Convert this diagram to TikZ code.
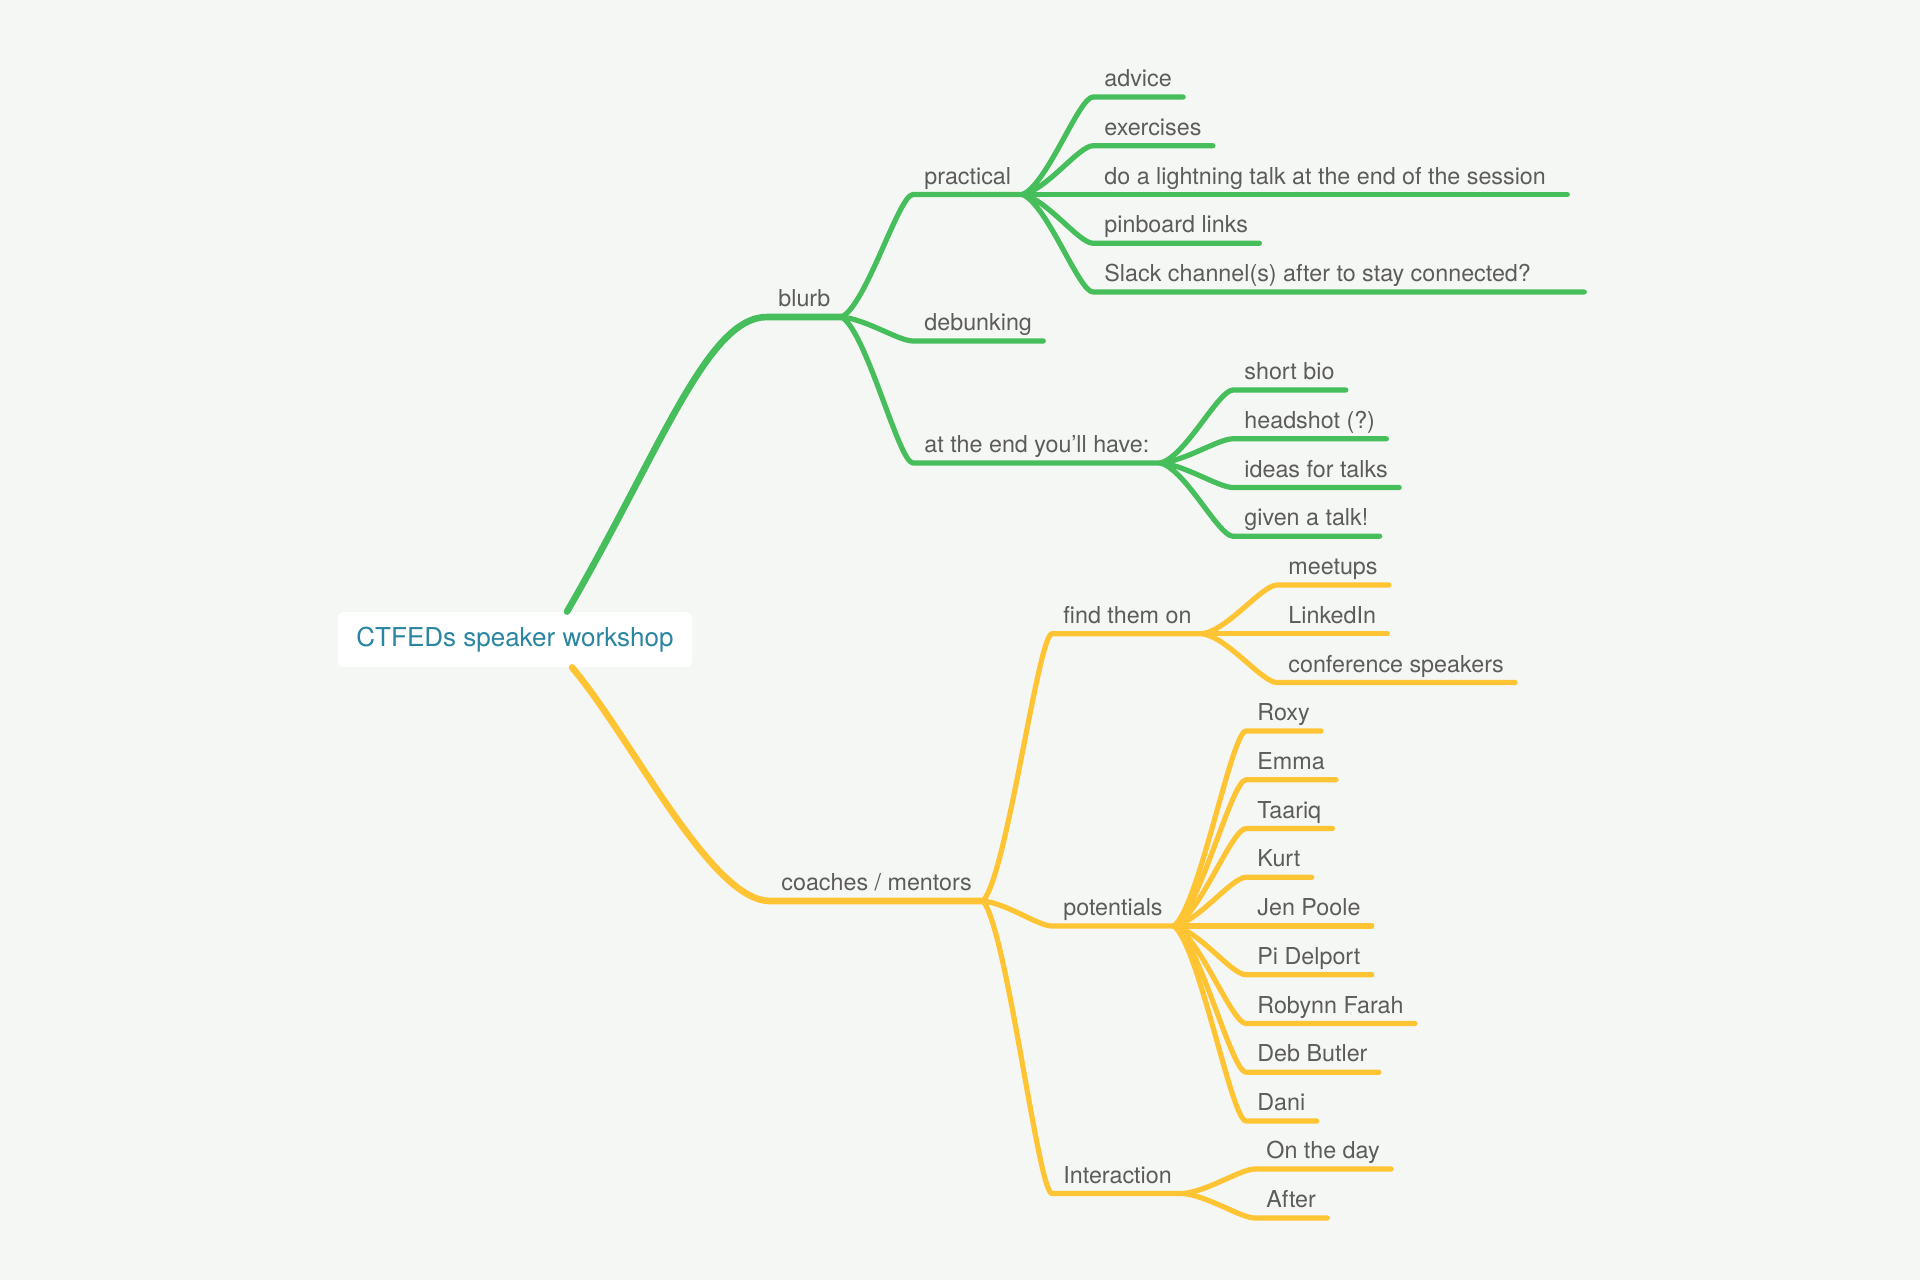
\documentclass[tikz,border=0pt]{standalone}
\usepackage{fontspec}
\setmainfont{TeX Gyre Heros}
\usepackage{xcolor}
\usepackage{tikz}
\usetikzlibrary{calc, positioning}

\definecolor{mapbg}{HTML}{F5F7F4}
\definecolor{mapgreen}{HTML}{46BE5B}
\definecolor{mapyellow}{HTML}{FFC433}
\definecolor{maptext}{HTML}{5C5C5C}
\definecolor{rootteal}{HTML}{2A86A0}

\begin{document}
\begin{tikzpicture}[
  x=0.5pt, y=-0.5pt,
  topic/.style={anchor=south west, inner xsep=5.5pt, inner ysep=5pt, text depth=0pt,
                font=\fontsize{11.65}{13}\selectfont, text=maptext},
  central/.style={rectangle, rounded corners=2.5pt, fill=white, minimum width=177pt,
                  minimum height=27.5pt, font=\fontsize{13}{15}\selectfont, text=rootteal},
  greenline/.style={draw=mapgreen, line width=2.6pt, line cap=round, line join=round},
  yellowline/.style={draw=mapyellow, line width=2.6pt, line cap=round, line join=round},
  branch/.style={to path={let \p1=(\tikztostart), \p2=(\tikztotarget) in
    .. controls ({\x1+0.35*(\x2-\x1)},{\y1+0.1*(\y2-\y1)}) and ({\x2-0.2*(\x2-\x1)},\y2) .. (\tikztotarget)}},
  mainbranch/.style 2 args={line width=3.3pt, to path={let \p1=(\tikztostart), \p2=(\tikztotarget) in
    .. controls ({\x1+#1*(\x2-\x1)},{\y1+#2*(\y2-\y1)}) and ({\x2-0.3*(\x2-\x1)},\y2) .. (\tikztotarget)}}
]

\fill[mapbg] (0,0) rectangle (1920,1280);

\node[central] (root) at (515,639.5) {CTFEDs speaker workshop};

% green side
\node[topic] (blurb) at (767,317) {blurb};
\node[topic] (practical) at (913,194.5) {practical};
\node[topic] (debunk) at (913,341) {debunking};
\node[topic] (atend) at (913,463) {at the end you’ll have:};
\node[topic] (advice) at (1093,97) {advice};
\node[topic] (exercises) at (1093,145.75) {exercises};
\node[topic] (lightning) at (1093,194.5) {do a lightning talk at the end of the session};
\node[topic] (pinboard) at (1093,243.25) {pinboard links};
\node[topic] (slack) at (1093,292) {Slack channel(s) after to stay connected?};
\node[topic] (bio) at (1233,390) {short bio};
\node[topic] (headshot) at (1233,438.75) {headshot (?)};
\node[topic] (ideas) at (1233,487.5) {ideas for talks};
\node[topic] (given) at (1233,536.25) {given a talk!};

% yellow side
\node[topic] (coaches) at (770,901) {coaches / mentors};
\node[topic] (findon) at (1052,633.75) {find them on};
\node[topic] (potentials) at (1052,926) {potentials};
\node[topic] (interact) at (1052,1193.5) {Interaction};
\node[topic] (meetups) at (1277,585) {meetups};
\node[topic] (linkedin) at (1277,633.75) {LinkedIn};
\node[topic] (confspk) at (1277,682.5) {conference speakers};
\node[topic] (roxy) at (1246,731) {Roxy};
\node[topic] (emma) at (1246,779.75) {Emma};
\node[topic] (taariq) at (1246,828.5) {Taariq};
\node[topic] (kurt) at (1246,877.25) {Kurt};
\node[topic] (jen) at (1246,926) {Jen Poole};
\node[topic] (pi) at (1246,974.75) {Pi Delport};
\node[topic] (robynn) at (1246,1023.5) {Robynn Farah};
\node[topic] (deb) at (1246,1072.25) {Deb Butler};
\node[topic] (dani) at (1246,1121) {Dani};
\node[topic] (onday) at (1255,1169) {On the day};
\node[topic] (after) at (1255,1218) {After};

% green branches
\draw[greenline, mainbranch={0.47}{0.55}] ([xshift=26pt]root.north) to (blurb.south west) -- (blurb.south east);
\draw[greenline, branch] (blurb.south east) to (practical.south west) -- (practical.south east);
\draw[greenline, branch] (blurb.south east) to (debunk.south west) -- (debunk.south east);
\draw[greenline, branch] (blurb.south east) to (atend.south west) -- (atend.south east);
\draw[greenline, branch] (practical.south east) to (advice.south west) -- (advice.south east);
\draw[greenline, branch] (practical.south east) to (exercises.south west) -- (exercises.south east);
\draw[greenline, branch] (practical.south east) to (lightning.south west) -- ([xshift=5pt]lightning.south east);
\draw[greenline, branch] (practical.south east) to (pinboard.south west) -- (pinboard.south east);
\draw[greenline, branch] (practical.south east) to (slack.south west) -- ([xshift=21pt]slack.south east);
\draw[greenline, branch] (atend.south east) to (bio.south west) -- (bio.south east);
\draw[greenline, branch] (atend.south east) to (headshot.south west) -- (headshot.south east);
\draw[greenline, branch] (atend.south east) to (ideas.south west) -- (ideas.south east);
\draw[greenline, branch] (atend.south east) to (given.south west) -- (given.south east);

% yellow branches
\draw[yellowline, mainbranch={0.3}{0.3}] ([xshift=28.5pt]root.south) to (coaches.south west) -- (coaches.south east);
\draw[yellowline, branch] (coaches.south east) to (findon.south west) -- (findon.south east);
\draw[yellowline, branch] (coaches.south east) to (potentials.south west) -- (potentials.south east);
\draw[yellowline, branch] (coaches.south east) to (interact.south west) -- (interact.south east);
\draw[yellowline, branch] (findon.south east) to (meetups.south west) -- (meetups.south east);
\draw[yellowline, branch] (findon.south east) to (linkedin.south west) -- (linkedin.south east);
\draw[yellowline, branch] (findon.south east) to (confspk.south west) -- (confspk.south east);
\draw[yellowline, branch] (potentials.south east) to (roxy.south west) -- (roxy.south east);
\draw[yellowline, branch] (potentials.south east) to (emma.south west) -- (emma.south east);
\draw[yellowline, branch] (potentials.south east) to (taariq.south west) -- (taariq.south east);
\draw[yellowline, branch] (potentials.south east) to (kurt.south west) -- (kurt.south east);
\draw[yellowline, branch] (potentials.south east) to (jen.south west) -- (jen.south east);
\draw[yellowline, branch] (potentials.south east) to (pi.south west) -- (pi.south east);
\draw[yellowline, branch] (potentials.south east) to (robynn.south west) -- (robynn.south east);
\draw[yellowline, branch] (potentials.south east) to (deb.south west) -- (deb.south east);
\draw[yellowline, branch] (potentials.south east) to (dani.south west) -- (dani.south east);
\draw[yellowline, branch] (interact.south east) to (onday.south west) -- (onday.south east);
\draw[yellowline, branch] (interact.south east) to (after.south west) -- (after.south east);
\end{tikzpicture}
\end{document}
